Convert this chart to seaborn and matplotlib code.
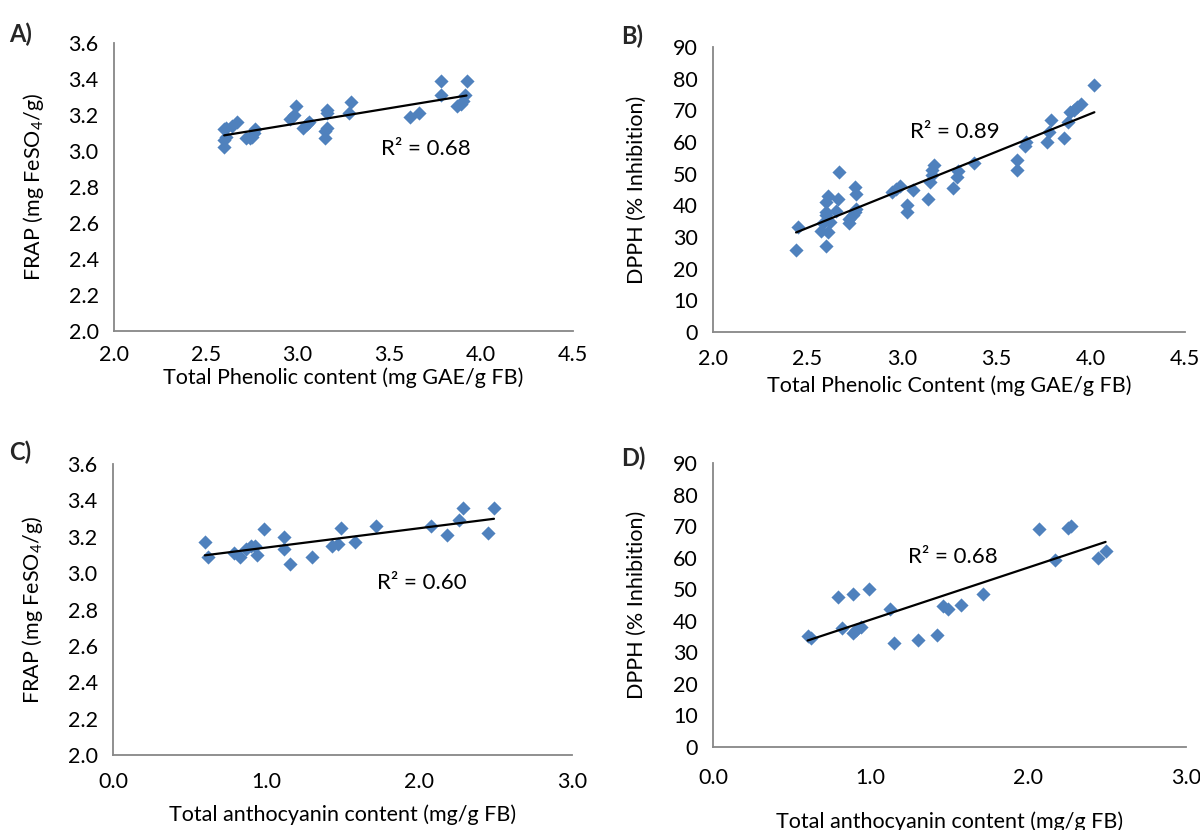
import numpy as np
import pandas as pd
import matplotlib
matplotlib.use("Agg")
import matplotlib.pyplot as plt
import seaborn as sns

sns.set_theme(style="white")
plt.rcParams['font.family'] = ['Lato', 'DejaVu Sans']
plt.rcParams['mathtext.fontset'] = 'custom'
plt.rcParams['mathtext.rm'] = 'Lato'
plt.rcParams['mathtext.it'] = 'Lato:italic'

# ---------------- Data ----------------
# A) Total phenolic content vs FRAP
a_tpc = [2.60, 2.60, 2.61, 2.60, 2.61, 2.64, 2.67, 2.72, 2.74, 2.75, 2.76, 2.77,
         2.96, 2.98, 2.99, 3.03, 3.05, 3.06, 3.15, 3.15, 3.16, 3.16, 3.16, 3.28,
         3.29, 3.61, 3.66, 3.78, 3.78, 3.87, 3.89, 3.90, 3.91, 3.92]
a_frap = [3.02, 3.06, 3.08, 3.12, 3.13, 3.14, 3.16, 3.07, 3.07, 3.08, 3.10, 3.12,
          3.18, 3.20, 3.25, 3.13, 3.15, 3.16, 3.07, 3.11, 3.13, 3.21, 3.23, 3.21,
          3.27, 3.19, 3.21, 3.31, 3.39, 3.25, 3.26, 3.28, 3.31, 3.39]

# B) Total phenolic content vs DPPH
b_tpc = [2.44, 2.45, 2.57, 2.58, 2.60, 2.60, 2.60, 2.61, 2.60, 2.61, 2.62, 2.65,
         2.66, 2.67, 2.72, 2.72, 2.74, 2.75, 2.76, 2.75, 2.76, 2.95, 2.97, 2.99,
         3.03, 3.03, 3.06, 3.14, 3.15, 3.16, 3.16, 3.17, 3.27, 3.29, 3.30, 3.38,
         3.61, 3.61, 3.65, 3.66, 3.77, 3.78, 3.79, 3.86, 3.88, 3.89, 3.91, 3.93,
         3.95, 4.02]
b_dpph = [25.9, 33.1, 32.0, 34.3, 36.9, 38.0, 41.1, 42.9, 27.0, 31.7, 34.8, 38.3,
          41.9, 50.4, 34.3, 35.6, 36.9, 38.0, 38.7, 45.7, 43.6, 44.2, 45.2, 46.2,
          38.0, 40.1, 44.8, 42.0, 47.5, 49.6, 51.2, 52.8, 45.6, 49.0, 50.8, 53.3,
          51.2, 54.2, 58.8, 60.0, 60.0, 63.2, 67.1, 61.3, 66.4, 69.5, 70.2, 71.0,
          72.0, 78.0]

# C) Total anthocyanin content vs FRAP
c_tac = [0.60, 0.62, 0.79, 0.83, 0.87, 0.90, 0.93, 0.94, 0.99, 1.12, 1.12, 1.16,
         1.30, 1.43, 1.47, 1.49, 1.58, 1.72, 2.08, 2.18, 2.26, 2.29, 2.45, 2.49]
c_frap = [3.17, 3.09, 3.11, 3.09, 3.13, 3.15, 3.15, 3.10, 3.24, 3.20, 3.13, 3.05,
          3.09, 3.15, 3.16, 3.25, 3.17, 3.26, 3.26, 3.21, 3.29, 3.36, 3.22, 3.36]

# D) Total anthocyanin content vs DPPH
d_tac = [0.60, 0.62, 0.79, 0.82, 0.89, 0.89, 0.91, 0.94, 0.99, 1.12, 1.15, 1.30,
         1.42, 1.46, 1.49, 1.57, 1.71, 2.07, 2.17, 2.25, 2.27, 2.44, 2.49]
d_dpph = [35.1, 34.6, 47.5, 37.8, 48.6, 36.2, 37.2, 37.9, 50.1, 43.6, 33.0, 33.8,
          35.6, 44.6, 43.8, 45.0, 48.6, 69.0, 59.4, 69.5, 70.0, 59.8, 62.2]

r2_labels = ["R\u00b2 = 0.68", "R\u00b2 = 0.89", "R\u00b2 = 0.60", "R\u00b2 = 0.68"]

# ---------------- Figure ----------------
W, H = 1200, 830
fig = plt.figure(figsize=(12, 8.3), dpi=100)

def box(l, r, t, b):
    return [l / W, 1 - b / H, (r - l) / W, (b - t) / H]

MARK = "#4F81BD"
SPINE = "#878787"
FS = 15.5

panels = [
    dict(pos=box(114, 573, 43, 331), x=a_tpc, y=a_frap,
         xlim=(2.0, 4.5), xt=np.arange(2.0, 4.51, 0.5),
         ylim=(2.0, 3.6), yt=np.arange(2.0, 3.61, 0.2),
         xl="Total Phenolic content (mg GAE/g FB)",
         yl="FRAP (mg FeSO$_4$/g)", r2=r2_labels[0], r2pos=(3.70, 3.01),
         letter="A)", lpos=(9, 34), xpad=4, xlo=47, ylo=80),
    dict(pos=box(713, 1185, 47, 332), x=b_tpc, y=b_dpph,
         xlim=(2.0, 4.5), xt=np.arange(2.0, 4.51, 0.5),
         ylim=(0, 90), yt=np.arange(0, 91, 10),
         xl="Total Phenolic Content (mg GAE/g FB)",
         yl="DPPH (% Inhibition)", r2=r2_labels[1], r2pos=(3.28, 63.2),
         letter="B)", lpos=(621, 36), xpad=6, xlo=54, ylo=76),
    dict(pos=box(113, 572, 464, 755), x=c_tac, y=c_frap,
         xlim=(0, 3), xt=np.arange(0, 3.01, 1.0),
         ylim=(2.0, 3.6), yt=np.arange(2.0, 3.61, 0.2),
         xl="Total anthocyanin content (mg/g FB)",
         yl="FRAP (mg FeSO$_4$/g)", r2=r2_labels[2], r2pos=(2.02, 2.945),
         letter="C)", lpos=(9, 452), xpad=6, xlo=60, ylo=80),
    dict(pos=box(713, 1186, 463, 747), x=d_tac, y=d_dpph,
         xlim=(0, 3), xt=np.arange(0, 3.01, 1.0),
         ylim=(0, 90), yt=np.arange(0, 91, 10),
         xl="Total anthocyanin content (mg/g FB)",
         yl="DPPH (% Inhibition)", r2=r2_labels[3], r2pos=(1.52, 60.1),
         letter="D)", lpos=(621, 458), xpad=9, xlo=75, ylo=76),
]

for p in panels:
    ax = fig.add_axes(p["pos"])
    wpx = p["pos"][2] * W
    hpx = p["pos"][3] * H
    df = pd.DataFrame({"x": p["x"], "y": p["y"]})
    sns.scatterplot(data=df, x="x", y="y", ax=ax, marker="D", s=52,
                    color=MARK, edgecolor=MARK, linewidth=0, zorder=3)
    sns.regplot(data=df, x="x", y="y", ax=ax, scatter=False, ci=None,
                truncate=True, line_kws=dict(color="black", lw=1.6, zorder=4))
    ax.set_xlim(*p["xlim"])
    ax.set_ylim(*p["ylim"])
    ax.set_xticks(p["xt"])
    ax.set_yticks(p["yt"])
    if p["ylim"][1] > 10:
        ax.set_yticklabels([f"{v:.0f}" for v in p["yt"]])
    else:
        ax.set_yticklabels([f"{v:.1f}" for v in p["yt"]])
    ax.set_xticklabels([f"{v:.1f}" for v in p["xt"]])
    for s in ["top", "right"]:
        ax.spines[s].set_visible(False)
    for s in ["left", "bottom"]:
        ax.spines[s].set_color(SPINE)
        ax.spines[s].set_linewidth(1.3)
    ax.tick_params(axis="both", direction="out", length=6, width=1.3,
                   color=SPINE, labelcolor="black", labelsize=FS)
    ax.tick_params(axis="x", pad=p["xpad"])
    ax.tick_params(axis="y", pad=5)
    ax.set_xlabel(p["xl"], fontsize=FS, color="black")
    ax.set_ylabel(p["yl"], fontsize=FS, color="black")
    ax.xaxis.label.set_va("center")
    ax.yaxis.label.set_va("center")
    ax.xaxis.set_label_coords(0.5, -p["xlo"] / hpx)
    ax.yaxis.set_label_coords(-p["ylo"] / wpx, 0.5)
    ax.text(*p["r2pos"], p["r2"], fontsize=16, color="black",
            ha="center", va="center")
    ax.set_facecolor("white")
    fig.text(p["lpos"][0] / W, 1 - p["lpos"][1] / H, p["letter"],
             fontsize=17, fontweight="bold", ha="left", va="center")

fig.savefig("out.png", dpi=100, facecolor="white")
